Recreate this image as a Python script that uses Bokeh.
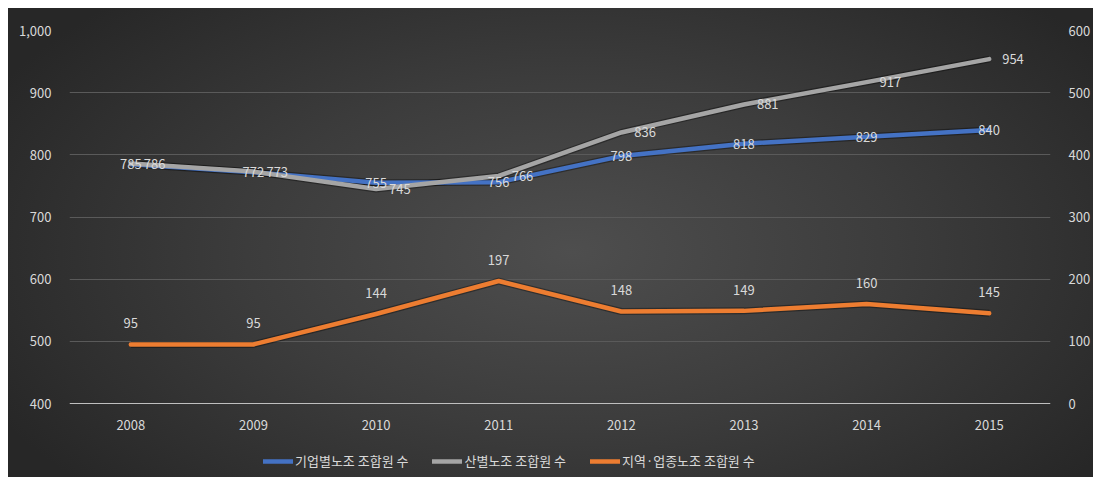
from bokeh.plotting import figure
from bokeh.models import (ColumnDataSource, LinearAxis, Range1d, Legend, LegendItem,
                          NumeralTickFormatter, FixedTicker)
from bokeh.core.properties import value
from bokeh.embed import file_html
from bokeh.resources import INLINE

years = ["2008", "2009", "2010", "2011", "2012", "2013", "2014", "2015"]
enterprise = [785, 772, 755, 756, 798, 818, 829, 840]
industry = [786, 773, 745, 766, 836, 881, 917, 954]
regional = [95, 95, 144, 197, 148, 149, 160, 145]
names = ["기업별노조 조합원 수", "산별노조 조합원 수", "지역·업종노조 조합원 수"]
left_ticks = [400, 500, 600, 700, 800, 900, 1000]
right_ticks = [0, 100, 200, 300, 400, 500, 600]

FONT = "Noto Sans CJK KR"
TXT = "#d9d9d9"
BLUE = "#4472c4"
GREY = "#a5a5a5"
ORANGE = "#ed7d31"

src = ColumnDataSource(dict(
    x=years, a=enterprise, b=industry, c=regional,
    at=[str(v) for v in enterprise], bt=[str(v) for v in industry], ct=[str(v) for v in regional],
))

# frame runs from the top of the value area down to the bottom edge; the
# x axis is pinned at the bottom of the value range (400 / 0)
ext = (600 / 373) * 74
p = figure(x_range=years, y_range=Range1d(400 - ext, 1000), width=1093, height=477,
           output_backend="svg", toolbar_location=None,
           min_border_left=69, min_border_right=36, min_border_top=30, min_border_bottom=0)
p.styles = {"background": "radial-gradient(ellipse 60% 75% at 52% 52%, #4e4e4e 0%, #3c3c3c 50%, #272727 100%) "
                          "8px 8px / calc(100% - 8px) calc(100% - 8px) no-repeat, #ffffff"}
p.border_fill_alpha = 0
p.background_fill_alpha = 0
p.outline_line_color = None

p.extra_y_ranges = {"right": Range1d(0 - ext, 600)}

p.yaxis.ticker = FixedTicker(ticks=left_ticks)
p.yaxis.formatter = NumeralTickFormatter(format="0,0")
for ax in [p.xaxis[0], p.yaxis[0]]:
    ax.major_label_text_color = TXT
    ax.major_label_text_font = FONT
    ax.major_label_text_font_size = "13px"
    ax.major_tick_line_color = None
    ax.minor_tick_line_color = None
p.yaxis.axis_line_color = None
p.yaxis.major_label_standoff = 12
p.xaxis.axis_line_color = "#bfbfbf"
p.xaxis.major_label_standoff = 10
p.xaxis.fixed_location = 400

ry = LinearAxis(y_range_name="right", ticker=FixedTicker(ticks=right_ticks))
ry.major_label_text_color = TXT
ry.major_label_text_font = FONT
ry.major_label_text_font_size = "13px"
ry.major_tick_line_color = None
ry.minor_tick_line_color = None
ry.axis_line_color = None
ry.major_label_standoff = 12
p.add_layout(ry, "right")

p.xgrid.grid_line_color = None
p.ygrid.ticker = FixedTicker(ticks=[500, 600, 700, 800, 900, 1000])
p.ygrid.grid_line_color = "#5a5a5a"

p.line("x", "a", source=src, line_color="black", line_alpha=0.35, line_width=7, line_join="round")
p.line("x", "b", source=src, line_color="black", line_alpha=0.35, line_width=7, line_join="round")
p.line("x", "c", source=src, y_range_name="right", line_color="black", line_alpha=0.35, line_width=7, line_join="round")

r1 = p.line("x", "a", source=src, line_color=BLUE, line_width=4.5, line_join="round", line_cap="round")
r2 = p.line("x", "b", source=src, line_color=GREY, line_width=4.5, line_join="round", line_cap="round")
r3 = p.line("x", "c", source=src, y_range_name="right", line_color=ORANGE, line_width=4.5,
            line_join="round", line_cap="round")

p.text("x", "a", text="at", source=src, text_align="center", text_baseline="middle",
       text_color=TXT, text_font=value(FONT), text_font_size="13px")
p.text("x", "b", text="bt", source=src, text_align="left", text_baseline="middle", x_offset=13,
       text_color=TXT, text_font=value(FONT), text_font_size="13px")
p.text("x", "c", text="ct", source=src, y_range_name="right", text_align="center",
       text_baseline="bottom", y_offset=-16,
       text_color=TXT, text_font=value(FONT), text_font_size="13px")

legend = Legend(items=[LegendItem(label=names[0], renderers=[r1]),
                       LegendItem(label=names[1], renderers=[r2]),
                       LegendItem(label=names[2], renderers=[r3])],
                orientation="horizontal", location=(194, 7))
legend.background_fill_alpha = 0
legend.border_line_color = None
legend.label_text_color = TXT
legend.label_text_font = FONT
legend.label_text_font_size = "13px"
legend.glyph_width = 30
legend.glyph_height = 16
legend.label_height = 16
legend.label_standoff = 2
legend.spacing = 24
legend.padding = 4
legend.margin = 0
p.add_layout(legend, "center")

open("out.html", "w").write(file_html(p, INLINE))
